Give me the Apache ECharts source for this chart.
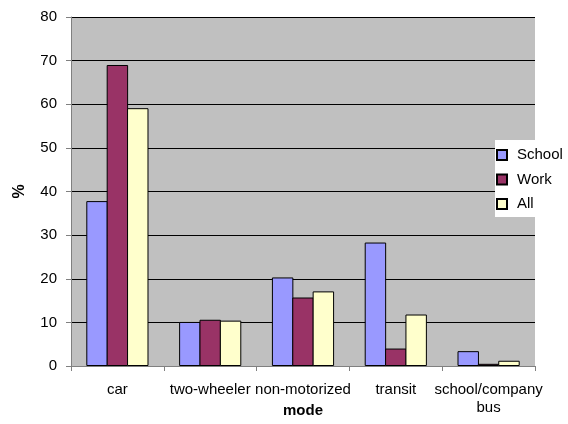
<!DOCTYPE html>
<html>
<head>
<meta charset="utf-8">
<script src="https://cdn.jsdelivr.net/npm/echarts@6/dist/echarts.min.js"></script>
<style>
  html, body { margin: 0; padding: 0; background: #fff; }
  #main { width: 568px; height: 424px; }
</style>
</head>
<body>
<div id="main"></div>
<script>
// travel mode share, %
var modes = ['car', 'two-wheeler', 'non-motorized', 'transit', 'school/company\nbus'];
var school = [37.8, 10.1, 20.3, 28.3, 3.4];
var work = [69.0, 10.6, 15.7, 4.0, 0.5];
var all = [59.1, 10.4, 17.1, 11.8, 1.2];

var font = 'Liberation Sans, Arial, sans-serif';

var myChart = echarts.init(document.getElementById('main'));
var option = {
    backgroundColor: '#fff',
    animation: false,
    textStyle: { fontFamily: font },
    grid: {
        left: 71,
        right: 33,
        top: 17,
        bottom: 58,
        outerBoundsMode: 'none',
        containLabel: false,
        show: true,
        backgroundColor: '#C0C0C0',
        borderWidth: 0
    },
    legend: {
        orient: 'vertical',
        left: 495,
        top: 140,
        backgroundColor: '#fff',
        padding: [7.5, 12, 5.5, 1],
        itemWidth: 10,
        itemHeight: 10,
        itemGap: 9.5,
        icon: 'rect',
        textStyle: { fontSize: 15, color: '#000', fontFamily: font, padding: [0, 0, 0, 5] },
        data: ['School', 'Work', 'All']
    },
    xAxis: {
        type: 'category',
        data: modes,
        name: 'mode',
        nameLocation: 'middle',
        nameGap: 37,
        nameMoveOverlap: false,
        nameTextStyle: { fontSize: 15, fontWeight: 'bold', color: '#000' },
        axisLine: { lineStyle: { color: '#808080', width: 1 } },
        axisTick: { show: true, length: 5, lineStyle: { color: '#808080' } },
        axisLabel: { interval: 0, fontSize: 15, color: '#000', margin: 15, lineHeight: 18 }
    },
    yAxis: {
        type: 'value',
        min: 0,
        max: 80,
        interval: 10,
        name: '%',
        nameLocation: 'middle',
        nameGap: 43,
        nameMoveOverlap: false,
        nameTextStyle: { fontSize: 16, fontWeight: 'bold', color: '#000' },
        axisLine: { show: true, lineStyle: { color: '#808080', width: 1 } },
        axisTick: { show: true, length: 5, lineStyle: { color: '#808080' } },
        axisLabel: { fontSize: 15, color: '#000', margin: 14 },
        splitLine: { show: true, lineStyle: { color: '#000', width: 1 } }
    },
    series: [
        {
            name: 'School',
            type: 'bar',
            data: school,
            barGap: '-5%',
            barCategoryGap: '33%',
            itemStyle: { color: '#9999FF', borderColor: '#000', borderWidth: 1 }
        },
        {
            name: 'Work',
            type: 'bar',
            data: work,
            barGap: '-5%',
            barCategoryGap: '33%',
            itemStyle: { color: '#993366', borderColor: '#000', borderWidth: 1 }
        },
        {
            name: 'All',
            type: 'bar',
            data: all,
            barGap: '-5%',
            barCategoryGap: '33%',
            itemStyle: { color: '#FFFFCC', borderColor: '#000', borderWidth: 1 }
        }
    ]
};
myChart.setOption(option);
</script>
</body>
</html>
